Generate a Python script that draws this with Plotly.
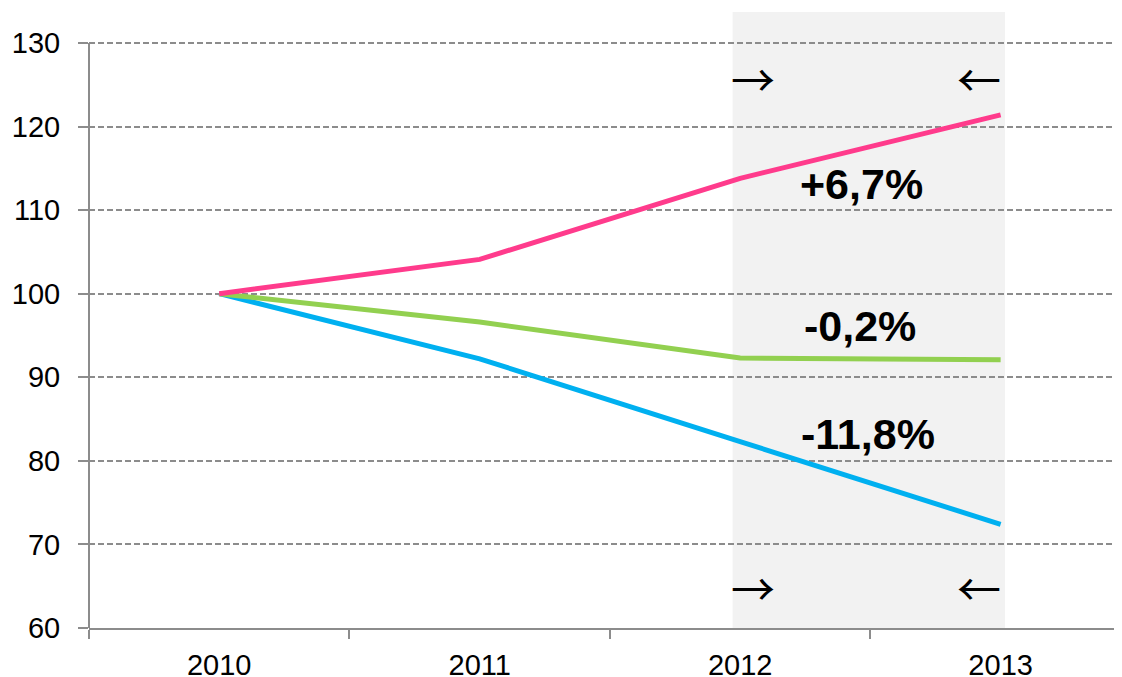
import plotly.graph_objects as go

years = ["2010", "2011", "2012", "2013"]
pink_vals = [100, 104.1, 113.8, 121.4]
green_vals = [100, 96.6, 92.3, 92.1]
blue_vals = [100, 92.2, 82.3, 72.4]

label_texts = ["+6,7%", "-0,2%", "-11,8%"]
label_x = [2.467, 2.46, 2.49]
label_y = [113.1, 96.1, 83.2]

arrow_texts = ["→", "←", "→", "←"]
arrow_x = [2.048, 2.918, 2.048, 2.918]
arrow_y = [125.8, 125.8, 64.9, 64.9]

y_ticks = [60, 70, 80, 90, 100, 110, 120, 130]

fig = go.Figure()

# shaded region behind 2012-2013
fig.add_shape(type="rect", xref="x", yref="y", x0=1.971, x1=3.017, y0=60, y1=133.7,
              fillcolor="#f2f2f2", line=dict(width=0), layer="below")

for vals, col in [(blue_vals, "#00b0f0"), (green_vals, "#92d050"), (pink_vals, "#ff3b8c")]:
    fig.add_trace(go.Scatter(x=years, y=vals, mode="lines",
                             line=dict(color=col, width=5), showlegend=False,
                             hoverinfo="skip"))

for t, x, y in zip(label_texts, label_x, label_y):
    fig.add_annotation(x=x, y=y, xref="x", yref="y", text=t, showarrow=False,
                       font=dict(family="Liberation Sans, Arial", size=43, color="#000000", weight="bold"))

for t, x, y in zip(arrow_texts, arrow_x, arrow_y):
    fig.add_annotation(x=x, y=y, xref="x", yref="y", text=t, showarrow=False,
                       font=dict(family="Noto Sans CJK JP", size=44, color="#000000"))

# y axis line only between 60 and 130
fig.add_shape(type="line", xref="paper", yref="y", x0=0, x1=0, y0=60, y1=130,
              line=dict(color="#8c8c8c", width=2))

fig.update_layout(
    width=1122, height=677,
    margin=dict(l=79, r=8, t=4, b=57),
    plot_bgcolor="white", paper_bgcolor="white",
    font=dict(family="Liberation Sans, Arial", size=29, color="#000000"),
)
fig.update_xaxes(
    type="category", range=[-0.5, 3.466], tickson="boundaries",
    ticks="outside", ticklen=9, tickwidth=2, tickcolor="#8c8c8c",
    showline=True, linecolor="#8c8c8c", linewidth=2,
    showgrid=False, zeroline=False,
    tickfont=dict(size=29, family="Liberation Sans, Arial", color="#000000"),
    ticklabelstandoff=10,
)
fig.update_yaxes(
    range=[60, 133.7], tickvals=y_ticks,
    ticks="outside", ticklen=10, tickwidth=2, tickcolor="#8c8c8c",
    showline=False, showgrid=True, gridcolor="#8c8c8c", gridwidth=1.5,
    griddash="6px,3px", zeroline=False,
    tickfont=dict(size=29, family="Liberation Sans, Arial", color="#000000"),
    ticklabelstandoff=12,
)

fig.write_html("out.html")
